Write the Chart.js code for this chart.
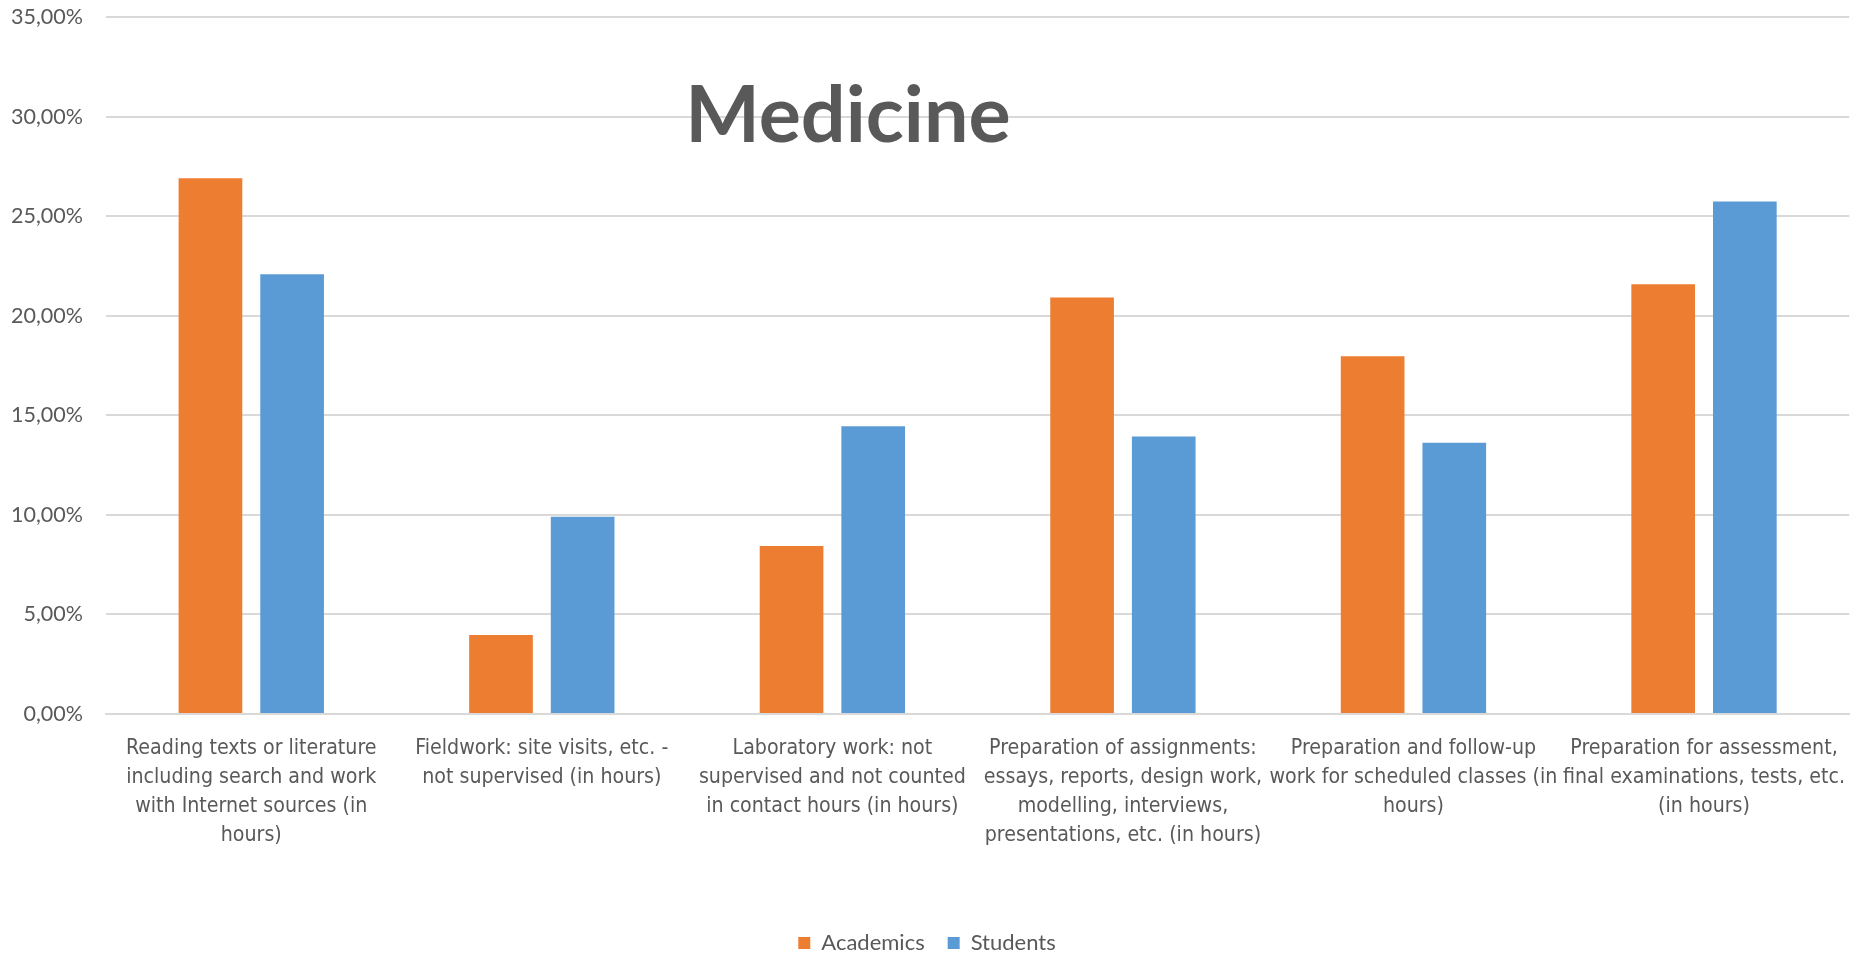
<!DOCTYPE html>
<html lang="en">
<head>
    <meta charset="UTF-8">
    <title>Medicine</title>
    <style>
        html, body { margin: 0; padding: 0; background: #ffffff; }
        #wrap { width: 1866px; height: 953px; position: relative; }
    </style>
</head>
<body>
    <div id="wrap">
        <canvas id="chart"></canvas>
    </div>

    <script src="https://cdn.jsdelivr.net/npm/chart.js"></script>
    <script>
        // chart data
        const categories = [
            ["Reading texts or literature", "including search and work", "with Internet sources (in", "hours)"],
            ["Fieldwork: site visits, etc. -", "not supervised (in hours)"],
            ["Laboratory work: not", "supervised and not counted", "in contact hours (in hours)"],
            ["Preparation of assignments:", "essays, reports, design work,", "modelling, interviews,", "presentations, etc. (in hours)"],
            ["Preparation and follow-up", "work for scheduled classes (in", "hours)"],
            ["Preparation for assessment,", "final examinations, tests, etc.", "(in hours)"]
        ];
        const academics = [26.90, 3.97, 8.43, 20.91, 17.96, 21.58];
        const students = [22.08, 9.91, 14.45, 13.93, 13.62, 25.74];
        const chartTitle = "Medicine";
        const yMax = 35;
        const yStep = 5;

        const textGray = "#595959";
        const gridGray = "#d9d9d9";

        // title sits inside the plot, left of centre
        const titleOverlay = {
            id: "titleOverlay",
            afterDraw(chart) {
                const area = chart.chartArea;
                const c = chart.ctx;
                c.save();
                c.font = "bold 79px Lato";
                c.fillStyle = textGray;
                c.textAlign = "center";
                c.textBaseline = "alphabetic";
                c.fillText(chartTitle, area.left + (area.right - area.left) * 0.4256, area.top + 125);
                c.restore();
            }
        };

        const ctx = document.getElementById("chart").getContext("2d");
        new Chart(ctx, {
            type: "bar",
            data: {
                labels: categories,
                datasets: [
                    {
                        label: "Academics",
                        data: academics,
                        backgroundColor: "#ED7D31",
                        categoryPercentage: 0.562,
                        barPercentage: 0.78
                    },
                    {
                        label: "Students",
                        data: students,
                        backgroundColor: "#5B9BD5",
                        categoryPercentage: 0.562,
                        barPercentage: 0.78
                    }
                ]
            },
            options: {
                responsive: true,
                maintainAspectRatio: false,
                animation: false,
                layout: {
                    padding: { top: 17, right: 12, left: 0, bottom: -11 }
                },
                plugins: {
                    title: { display: false },
                    tooltip: { enabled: false },
                    legend: {
                        position: "bottom",
                        labels: {
                            boxWidth: 12,
                            boxHeight: 12,
                            padding: 23,
                            color: textGray,
                            font: { family: "Lato", size: 22 }
                        }
                    }
                },
                scales: {
                    x: {
                        afterFit(scale) { scale.height = 195; },
                        grid: { display: false, drawTicks: false },
                        border: { color: gridGray, width: 2 },
                        ticks: {
                            color: textGray,
                            padding: 20,
                            maxRotation: 0,
                            autoSkip: false,
                            font: { family: "'Liberation Sans Narrow', 'DejaVu Sans Condensed', 'Liberation Sans'", size: 21.2, lineHeight: 1.37 }
                        }
                    },
                    y: {
                        min: 0,
                        max: yMax,
                        afterFit(scale) { scale.width = 106; },
                        // invisible tick marks give the gap between labels and plot
                        grid: { color: gridGray, lineWidth: 2, drawTicks: true, tickLength: 23, tickColor: "rgba(0,0,0,0)" },
                        border: { display: false },
                        ticks: {
                            stepSize: yStep,
                            padding: 0,
                            color: textGray,
                            font: { family: "Lato", size: 21.5 },
                            callback: v => v.toFixed(2).replace(".", ",") + "%"
                        }
                    }
                }
            },
            plugins: [titleOverlay]
        });
    </script>
</body>
</html>
